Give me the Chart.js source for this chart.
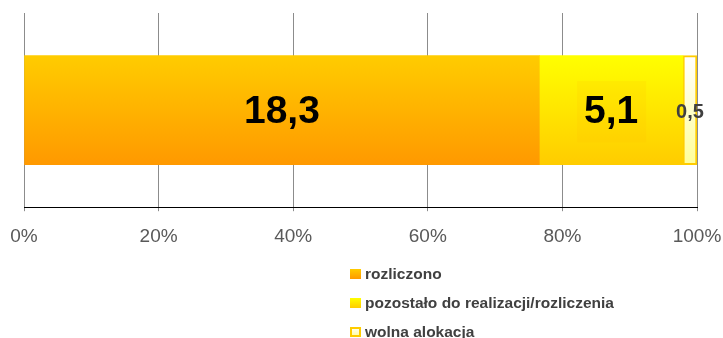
<!DOCTYPE html>
<html>
<head>
<meta charset="utf-8">
<script src="https://cdn.jsdelivr.net/npm/chart.js@4/dist/chart.umd.min.js"></script>
<style>
  html, body { margin: 0; padding: 0; background: #fff; }
  #wrap { width: 723px; height: 338px; position: relative; }
</style>
</head>
<body>
<div id="wrap"><canvas id="_canvasc"></canvas></div>
<script>
// ******************************************************** DATA
var categories = [""];
var seriesNames = ["rozliczono", "pozostało do realizacji/rozliczenia", "wolna alokacja"];
var valRozliczono = [18.3];
var valPozostalo = [5.1];
var valWolna = [0.5];
var tickLabels = ["0%", "20%", "40%", "60%", "80%", "100%"];

var BAR_H = 109;
var FONT = "'Liberation Sans', Arial, sans-serif";

// share of the whole bar, in percent
var total = valRozliczono[0] + valPozostalo[0] + valWolna[0];
function pct(arr) { return arr.map(function (v) { return v / total * 100; }); }

// vertical gradient across the bar itself
function barGradient(top, bottom) {
    return function (ctx) {
        var chart = ctx.chart;
        if (!chart.chartArea || !chart.scales.y) return bottom;
        var yc = chart.scales.y.getPixelForValue(0);
        var g = chart.ctx.createLinearGradient(0, yc - BAR_H / 2, 0, yc + BAR_H / 2);
        g.addColorStop(0, top);
        g.addColorStop(1, bottom);
        return g;
    };
}

var fills = [
    ["#FFCC00", "#FF9900"],
    ["#FFFF00", "#FFCC00"],
    ["#FFFFFF", "#FFFF99"]
];

// value labels inside the segments
var labelStyle = [
    { size: 39, color: "#000000" },
    { size: 39, color: "#000000", box: true },
    { size: 20, color: "#404040" }
];

var valueLabels = {
    id: 'valueLabels',
    afterDatasetsDraw: function (chart) {
        var c = chart.ctx;
        chart.data.datasets.forEach(function (ds, i) {
            var el = chart.getDatasetMeta(i).data[0];
            var raw = ds.raw[0];
            var st = labelStyle[i];
            var cx = (el.x + el.base) / 2;
            var cy = el.y + 2;
            if (st.box) {
                c.save();
                c.fillStyle = "rgba(255,190,0,0.15)";
                c.fillRect(cx - 34, el.y - 29, 69, 61);
                c.restore();
            }
            c.save();
            c.font = "bold " + st.size + "px " + FONT;
            c.fillStyle = st.color;
            c.textAlign = "center";
            c.textBaseline = "middle";
            c.fillText(raw.toFixed(1).replace(".", ","), cx, cy);
            c.restore();
        });
    }
};

// legend listed vertically under the axis
var sideLegend = {
    id: 'sideLegend',
    afterDraw: function (chart) {
        var c = chart.ctx;
        var x0 = 350, y0 = 274, step = 29;
        chart.data.datasets.forEach(function (ds, i) {
            var y = y0 + i * step;
            var g = c.createLinearGradient(0, y - 5, 0, y + 5);
            g.addColorStop(0, fills[i][0]);
            g.addColorStop(1, fills[i][1]);
            c.save();
            c.fillStyle = g;
            c.fillRect(x0, y - 5, 11, 10);
            if (i === 2) {
                c.strokeStyle = "#FFCC00";
                c.lineWidth = 2;
                c.strokeRect(x0 + 1, y - 4, 9, 8);
            }
            c.font = "bold 15.5px " + FONT;
            c.fillStyle = "#404040";
            c.textBaseline = "middle";
            c.fillText(ds.label, x0 + 15, y + 1);
            c.restore();
        });
    }
};

var series = [valRozliczono, valPozostalo, valWolna];

var config = {
    type: 'bar',
    data: {
        labels: categories,
        datasets: series.map(function (arr, i) {
            return {
                label: seriesNames[i],
                raw: arr,
                data: pct(arr),
                backgroundColor: barGradient(fills[i][0], fills[i][1]),
                borderColor: i === 2 ? "#FFCC00" : "rgba(0,0,0,0)",
                borderWidth: i === 2 ? 2 : 0,
                borderSkipped: false,
                barThickness: BAR_H
            };
        })
    },
    options: {
        indexAxis: 'y',
        responsive: false,
        animation: false,
        layout: {
            padding: { top: 13, left: 24, right: 26, bottom: 76 }
        },
        plugins: {
            legend: { display: false },
            tooltip: { enabled: false }
        },
        scales: {
            x: {
                stacked: true,
                min: 0,
                max: 100,
                // keep the plot edges where the layout padding puts them
                afterFit: function (scale) {
                    scale.paddingLeft = 0;
                    scale.paddingRight = 0;
                },
                ticks: {
                    stepSize: 20,
                    color: "#595959",
                    padding: 14,
                    maxRotation: 0,
                    font: { size: 19, family: FONT },
                    callback: function (v, idx) { return tickLabels[idx]; }
                },
                grid: {
                    color: "#8C8C8C",
                    lineWidth: 1,
                    tickLength: 4
                },
                border: { display: true, color: "#000000", width: 1 }
            },
            y: {
                stacked: true,
                display: false
            }
        }
    },
    plugins: [valueLabels, sideLegend]
};

// ******************************************************** CHART
var _canvasc = document.getElementById("_canvasc");
_canvasc.width = 723;
_canvasc.height = 338;

window.myBar = new Chart(_canvasc, config);
</script>
</body>
</html>
